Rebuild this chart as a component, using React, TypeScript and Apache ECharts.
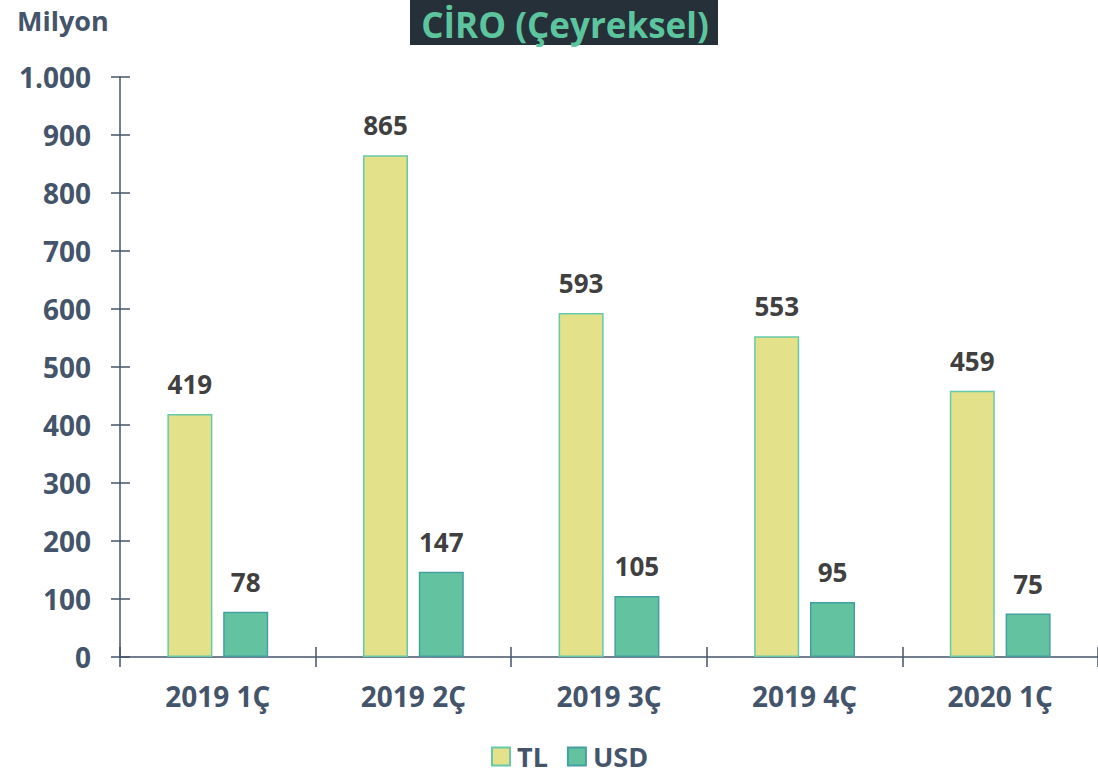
import React, { useEffect, useRef } from "react";
import * as echarts from "echarts";

const categories = ["2019 1Ç", "2019 2Ç", "2019 3Ç", "2019 4Ç", "2020 1Ç"];
const tlValues = [419, 865, 593, 553, 459];
const usdValues = [78, 147, 105, 95, 75];
const seriesNames = ["TL", "USD"];
const titleText = "CİRO (Çeyreksel)";
const unitText = "Milyon";

const FONT = "'Open Sans', sans-serif";
const AXIS = "#44546a";

export default function App() {
  const ref = useRef<HTMLDivElement>(null);
  useEffect(() => {
    const chart = echarts.init(ref.current!, null, { renderer: "svg" });
    const fmt = (v: number) => (v >= 1000 ? v.toLocaleString("de-DE") : String(v));
    const tickLabel = { fontFamily: FONT, fontWeight: "bold", fontSize: 28, color: AXIS };
    chart.setOption({
      animation: false,
      backgroundColor: "#ffffff",
      graphic: [
        { type: "rect", shape: { x: 410, y: 0, width: 308, height: 45 }, style: { fill: "#263039" } },
        {
          type: "text", x: 565, y: 24,
          style: { text: titleText, fill: "#5cc59d", font: `bold 35px ${FONT}`, lineHeight: 40, textAlign: "center", textVerticalAlign: "middle" },
        },
        {
          type: "text", x: 17, y: 20,
          style: { text: unitText, fill: AXIS, font: `bold 27px ${FONT}`, textAlign: "left", textVerticalAlign: "middle" },
        },
      ],
      legend: {
        bottom: 2,
        left: 486,
        itemWidth: 18,
        itemHeight: 18,
        itemGap: 19,
        icon: "rect",
        textStyle: { fontFamily: FONT, fontWeight: "bold", fontSize: 27, color: AXIS, padding: [0, 0, 0, 2] },
        data: seriesNames,
      },
      grid: { left: 120, right: 0, top: 77, bottom: 120, containLabel: false },
      xAxis: [
        {
          type: "category",
          data: categories,
          axisLine: { lineStyle: { color: AXIS, width: 1.5 } },
          axisTick: { show: true, length: 10, lineStyle: { color: AXIS, width: 1.5 } },
          axisLabel: { ...tickLabel, margin: 25 },
        },
        {
          type: "category",
          data: categories,
          position: "bottom",
          axisLine: { show: false },
          axisTick: { show: true, inside: true, length: 10, lineStyle: { color: AXIS, width: 1.5 } },
          axisLabel: { show: false },
        },
      ],
      yAxis: [
        {
          type: "value",
          min: 0,
          max: 1000,
          interval: 100,
          axisLine: { show: true, lineStyle: { color: AXIS, width: 1.5 } },
          axisTick: { show: true, length: 9, lineStyle: { color: AXIS, width: 1.5 } },
          splitLine: { show: false },
          axisLabel: { ...tickLabel, margin: 29, formatter: fmt },
        },
        {
          type: "value",
          min: 0,
          max: 1000,
          interval: 100,
          position: "left",
          axisLine: { show: false },
          axisTick: { show: true, inside: true, length: 10, lineStyle: { color: AXIS, width: 1.5 } },
          splitLine: { show: false },
          axisLabel: { show: false },
        },
      ],
      series: [
        {
          name: seriesNames[0],
          type: "bar",
          data: tlValues,
          barWidth: 45,
          barGap: "24%",
          itemStyle: { color: "#e3e18a", borderColor: "#67c9a8", borderWidth: 1.5 },
          label: { show: true, position: "top", distance: 17, fontFamily: FONT, fontWeight: "bold", fontSize: 26, color: "#404040" },
        },
        {
          name: seriesNames[1],
          type: "bar",
          data: usdValues,
          barWidth: 45,
          itemStyle: { color: "#63c3a1", borderColor: "#44a0a0", borderWidth: 1.5 },
          label: { show: true, position: "top", distance: 17, fontFamily: FONT, fontWeight: "bold", fontSize: 26, color: "#404040" },
        },
      ],
    });
    return () => chart.dispose();
  }, []);
  return <div ref={ref} style={{ position: "fixed", left: 0, top: 0, width: 1098, height: 777 }} />;
}
